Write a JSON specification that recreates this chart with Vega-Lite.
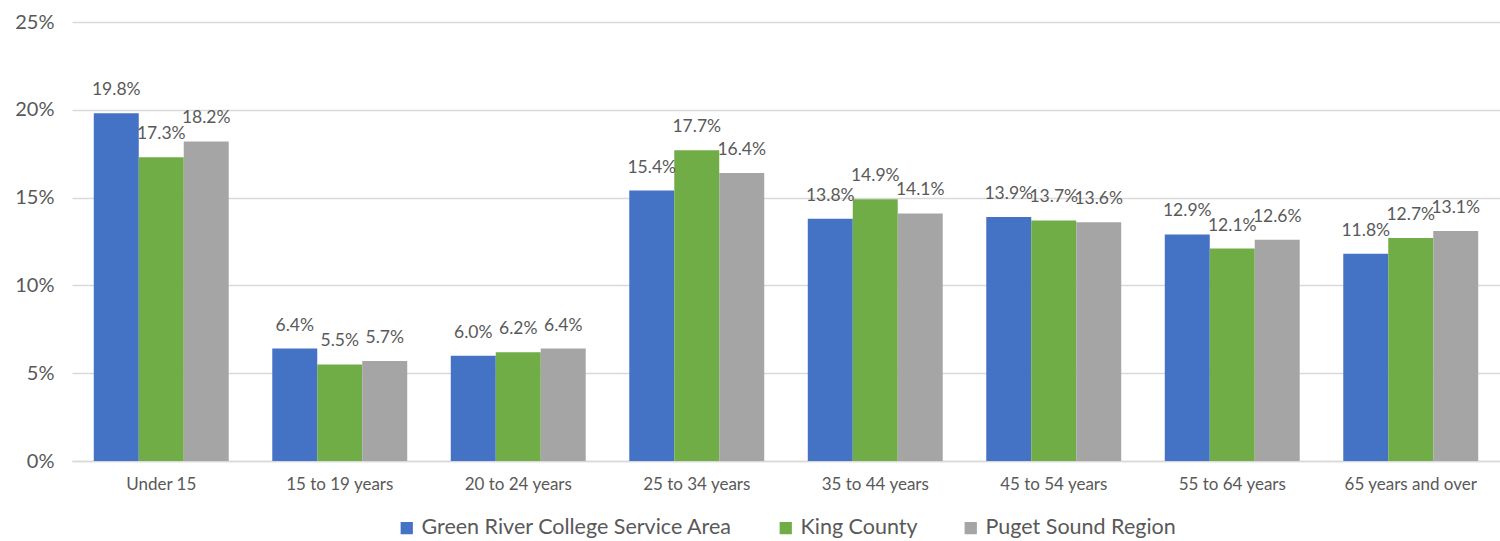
{
  "$schema": "https://vega.github.io/schema/vega-lite/v6.json",
  "autosize": {"type": "fit", "contains": "padding"},
  "width": 1500,
  "height": 541,
  "padding": {"left": 14, "top": 12, "right": 0, "bottom": 2},
  "background": "white",
  "config": {
    "font": "Lato",
    "view": {"stroke": null},
    "legend": {"layout": {"bottom": {"anchor": "middle"}}}
  },
  "data": {
    "values": [
      {"age": "Under 15", "series": "Green River College Service Area", "value": 0.198},
      {"age": "Under 15", "series": "King County", "value": 0.173},
      {"age": "Under 15", "series": "Puget Sound Region", "value": 0.182},
      {"age": "15 to 19 years", "series": "Green River College Service Area", "value": 0.064},
      {"age": "15 to 19 years", "series": "King County", "value": 0.055},
      {"age": "15 to 19 years", "series": "Puget Sound Region", "value": 0.057},
      {"age": "20 to 24 years", "series": "Green River College Service Area", "value": 0.060},
      {"age": "20 to 24 years", "series": "King County", "value": 0.062},
      {"age": "20 to 24 years", "series": "Puget Sound Region", "value": 0.064},
      {"age": "25 to 34 years", "series": "Green River College Service Area", "value": 0.154},
      {"age": "25 to 34 years", "series": "King County", "value": 0.177},
      {"age": "25 to 34 years", "series": "Puget Sound Region", "value": 0.164},
      {"age": "35 to 44 years", "series": "Green River College Service Area", "value": 0.138},
      {"age": "35 to 44 years", "series": "King County", "value": 0.149},
      {"age": "35 to 44 years", "series": "Puget Sound Region", "value": 0.141},
      {"age": "45 to 54 years", "series": "Green River College Service Area", "value": 0.139},
      {"age": "45 to 54 years", "series": "King County", "value": 0.137},
      {"age": "45 to 54 years", "series": "Puget Sound Region", "value": 0.136},
      {"age": "55 to 64 years", "series": "Green River College Service Area", "value": 0.129},
      {"age": "55 to 64 years", "series": "King County", "value": 0.121},
      {"age": "55 to 64 years", "series": "Puget Sound Region", "value": 0.126},
      {"age": "65 years and over", "series": "Green River College Service Area", "value": 0.118},
      {"age": "65 years and over", "series": "King County", "value": 0.127},
      {"age": "65 years and over", "series": "Puget Sound Region", "value": 0.131}
    ]
  },
  "encoding": {
    "x": {
      "field": "age",
      "type": "nominal",
      "sort": null,
      "title": null,
      "scale": {"paddingInner": 0.244, "paddingOuter": 0.122},
      "axis": {
        "labelAngle": 0,
        "labelFontSize": 17,
        "labelColor": "#595959",
        "labelPadding": 15,
        "ticks": false,
        "domainColor": "#d9d9d9",
        "domainWidth": 1.5
      }
    },
    "xOffset": {
      "field": "series",
      "type": "nominal",
      "sort": ["Green River College Service Area", "King County", "Puget Sound Region"],
      "scale": {"paddingInner": 0, "paddingOuter": 0}
    },
    "y": {
      "field": "value",
      "type": "quantitative",
      "title": null,
      "scale": {"domain": [0, 0.25], "nice": false},
      "axis": {
        "format": ".0%",
        "values": [0, 0.05, 0.1, 0.15, 0.2, 0.25],
        "labelFontSize": 20,
        "labelColor": "#595959",
        "labelPadding": 18,
        "ticks": false,
        "domain": false,
        "gridColor": "#d9d9d9",
        "gridWidth": 1.5
      }
    }
  },
  "layer": [
    {
      "mark": {"type": "bar"},
      "encoding": {
        "color": {
          "field": "series",
          "type": "nominal",
          "scale": {
            "domain": ["Green River College Service Area", "King County", "Puget Sound Region"],
            "range": ["#4472C4", "#70AD47", "#A5A5A5"]
          },
          "legend": {
            "title": null,
            "orient": "bottom",
            "direction": "horizontal",
            "symbolType": "square",
            "symbolSize": 150,
            "symbolStrokeWidth": 0,
            "labelFontSize": 21.5,
            "labelColor": "#595959",
            "labelLimit": 500,
            "columnPadding": 42,
            "labelOffset": 4,
            "offset": 25
          }
        }
      }
    },
    {
      "mark": {
        "type": "text",
        "baseline": "alphabetic",
        "dy": -18,
        "fontSize": 17.5,
        "color": "#595959"
      },
      "encoding": {
        "text": {"field": "value", "type": "quantitative", "format": ".1%"}
      }
    }
  ]
}
